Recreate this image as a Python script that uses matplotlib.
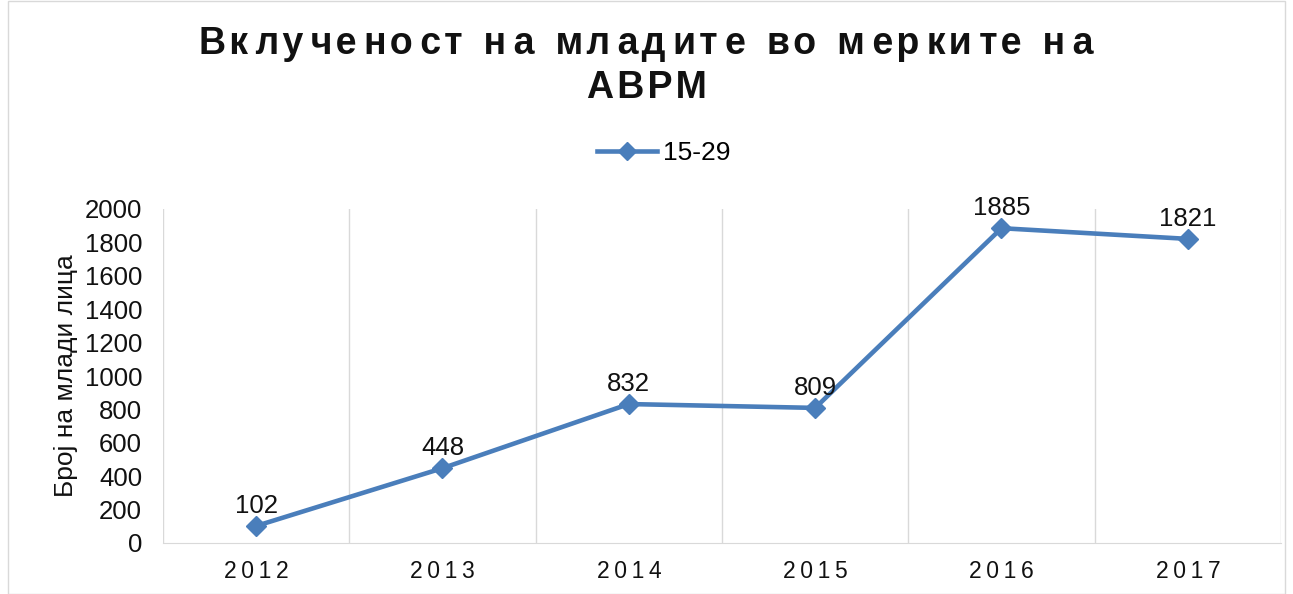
import matplotlib
matplotlib.use("Agg")
import matplotlib.pyplot as plt
from matplotlib.lines import Line2D
from matplotlib.patches import Rectangle

years = ["2012", "2013", "2014", "2015", "2016", "2017"]
values = [102, 448, 832, 809, 1885, 1821]
series_name = "15-29"
title_lines = ["Вклученост на младите во мерките на", "АВРМ"]
ylabel = "Број на млади лица"
yticks = list(range(0, 2001, 200))

plt.rcParams['font.family'] = ['Liberation Sans', 'DejaVu Sans']
color = "#4a7ebb"

fig = plt.figure(figsize=(12.93, 5.94), dpi=100)
W, H = 1293, 594
ax = fig.add_axes([163 / W, 1 - 543 / H, (1281 - 163) / W, (543 - 209) / H])

x = list(range(len(years)))
ax.plot(x, values, color=color, lw=3.3, marker="D", ms=10, zorder=3, clip_on=False)
for xi, v in zip(x, values):
    ax.annotate(str(v), (xi, v), xytext=(0, 6), textcoords="offset points",
                ha="center", va="bottom", fontsize=18.5, color="#111111")

ax.set_xlim(-0.5, len(years) - 0.5)
ax.set_ylim(0, 2000)
ax.set_yticks(yticks)
ax.set_yticklabels([str(t) for t in yticks], fontsize=18.5, color="#111111")
ax.set_xticks(x)
spaced = ["\u2009".join(y) for y in years]
ax.set_xticklabels(spaced, fontsize=16.5, color="#111111")
ax.tick_params(axis="both", length=0)
ax.tick_params(axis="y", pad=15)
ax.tick_params(axis="x", pad=12)

for b in [i - 0.5 for i in range(len(years) + 1)]:
    ax.axvline(b, color="#d9d9d9", lw=1, zorder=1)
for s in ["top", "right", "left"]:
    ax.spines[s].set_visible(False)
ax.spines["bottom"].set_color("#d9d9d9")

ax.set_ylabel(ylabel, fontsize=19, color="#111111", labelpad=5)

def spaced_title(s):
    out = s[0]
    for i, ch in enumerate(s[1:]):
        out += ("\u200a" if i % 2 == 0 else "\u2009") + ch
    return out

fig.text(0.5, 1 - 44 / H, spaced_title(title_lines[0]), ha="center", va="center",
         fontsize=27, fontweight="bold", color="#111111")
fig.text(0.5, 1 - 88 / H, "\u200a".join(title_lines[1]), ha="center", va="center",
         fontsize=27, fontweight="bold", color="#111111")

handle = Line2D([], [], color=color, lw=3.3, marker="D", ms=9)
fig.legend([handle], [series_name], loc="center", bbox_to_anchor=(0.513, 1 - 153 / H),
           frameon=False, fontsize=19, handlelength=2.3, handletextpad=0.2)

fig.patches.append(Rectangle((8 / W, 0), 1 - 16 / W, 1 - 1 / H, transform=fig.transFigure,
                             fill=False, edgecolor="#d9d9d9", lw=1))

fig.savefig("out.png", dpi=100)
